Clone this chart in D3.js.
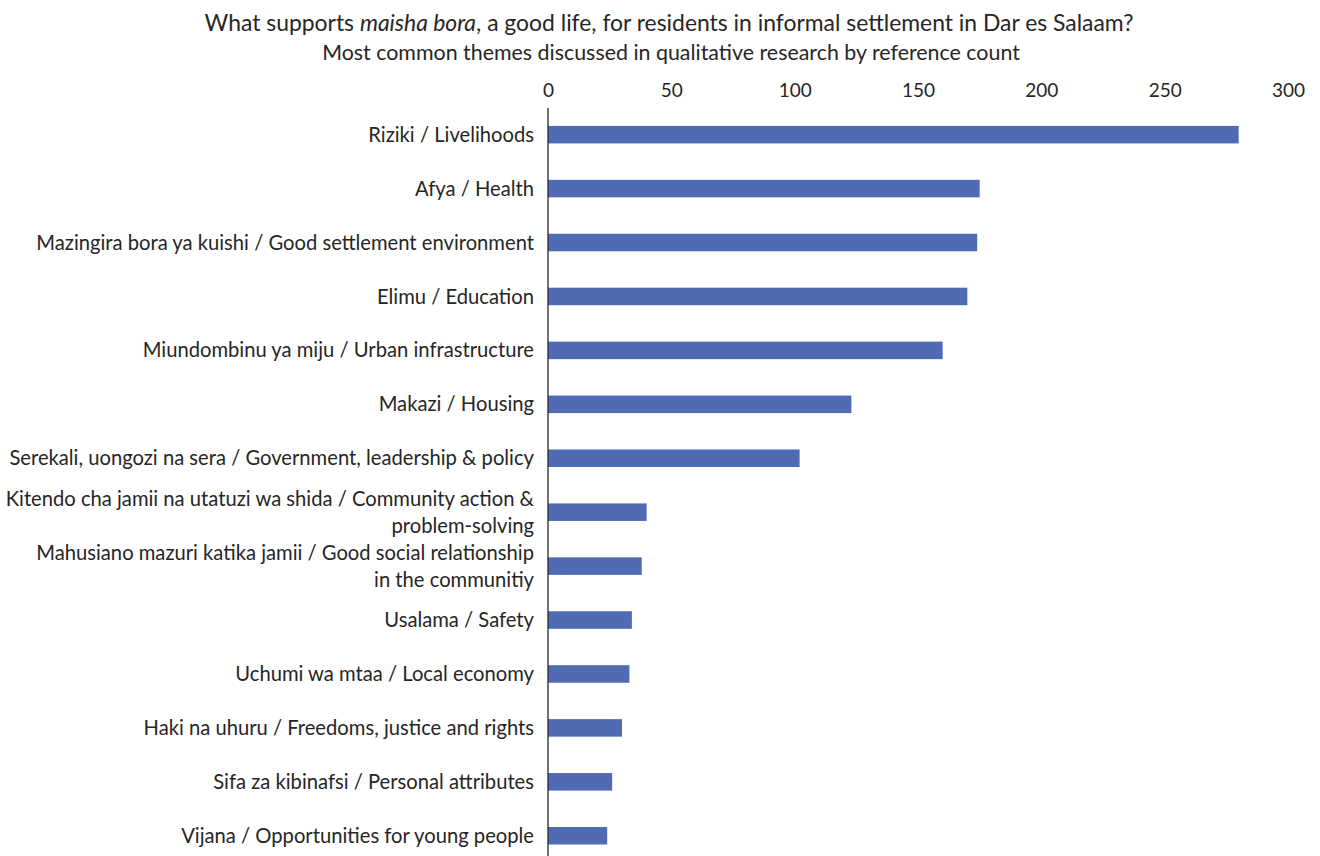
<!DOCTYPE html>
<html>
<head>
<meta charset="utf-8">
<script src="https://cdn.jsdelivr.net/npm/d3@7"></script>
<style>
  body { margin: 0; background: #fff; }
  text { font-family: Lato, "Open Sans", sans-serif; fill: #262626; }
</style>
</head>
<body>
<script>
// chart data
const themes = [
  'Riziki / Livelihoods',
  'Afya / Health',
  'Mazingira bora ya kuishi / Good settlement environment',
  'Elimu / Education',
  'Miundombinu ya miju / Urban infrastructure',
  'Makazi / Housing',
  'Serekali, uongozi na sera / Government, leadership & policy',
  'Kitendo cha jamii na utatuzi wa shida / Community action &|problem-solving',
  'Mahusiano mazuri katika jamii / Good social relationship|in the communitiy',
  'Usalama / Safety',
  'Uchumi wa mtaa / Local economy',
  'Haki na uhuru / Freedoms, justice and rights',
  'Sifa za kibinafsi / Personal attributes',
  'Vijana / Opportunities for young people'
];
const counts = [280, 175, 174, 170, 160, 123, 102, 40, 38, 34, 33, 30, 26, 24];
const xTicks = [0, 50, 100, 150, 200, 250, 300];

const svgW = 1320;
const svgH = 856;
const x0 = 548;
const x1 = 1288;

const svg = d3.select('body').append('svg').attr('width', svgW).attr('height', svgH);

const x = d3.scaleLinear().domain([0, 300]).range([x0, x1]);
const y = d3.scaleBand()
  .domain(themes)
  .range([107.7, 107.7 + 14 * 53.93])
  .paddingInner(0.675)
  .paddingOuter(0.3375);

// titles
const title = svg.append('text')
  .attr('x', 669).attr('y', 31)
  .attr('text-anchor', 'middle')
  .style('font-size', '22.9px');
title.append('tspan').text('What supports ');
title.append('tspan').style('font-style', 'italic').text('maisha bora');
title.append('tspan').text(', a good life, for residents in informal settlement in Dar es Salaam?');

svg.append('text')
  .attr('x', 671).attr('y', 60)
  .attr('text-anchor', 'middle')
  .style('font-size', '21.4px')
  .text('Most common themes discussed in qualitative research by reference count');

// top axis
const xAxis = svg.append('g')
  .attr('transform', 'translate(0,' + 90 + ')')
  .call(d3.axisTop(x).tickValues(xTicks).tickSize(0).tickPadding(0));
xAxis.select('.domain').remove();
xAxis.selectAll('text')
  .style('font-size', '19px')
  .style('font-family', 'Lato, "Open Sans", sans-serif')
  .attr('fill', '#262626')
  .attr('dy', '0.35em');

// bars
svg.selectAll('rect.bar')
  .data(themes)
  .join('rect')
  .attr('class', 'bar')
  .attr('x', x(0))
  .attr('y', (d) => y(d))
  .attr('width', (d, i) => x(counts[i]) - x(0))
  .attr('height', y.bandwidth())
  .attr('fill', '#4f6bb3');

// category labels
const labels = svg.selectAll('text.cat')
  .data(themes)
  .join('text')
  .attr('class', 'cat')
  .attr('text-anchor', 'end')
  .style('font-size', '20.2px');

labels.each(function (d) {
  const lines = d.split('|');
  const cy = y(d) + y.bandwidth() / 2;
  const lh = 27;
  const top = cy - (lines.length - 1) * lh / 2;
  lines.forEach((ln, li) => {
    d3.select(this).append('tspan')
      .attr('x', 534)
      .attr('y', top + li * lh)
      .attr('dy', '0.35em')
      .text(ln);
  });
});

// vertical axis line
svg.append('line')
  .attr('x1', x(0)).attr('x2', x(0))
  .attr('y1', 108).attr('y2', svgH)
  .attr('stroke', '#262626')
  .attr('stroke-width', 1.3);
</script>
</body>
</html>
